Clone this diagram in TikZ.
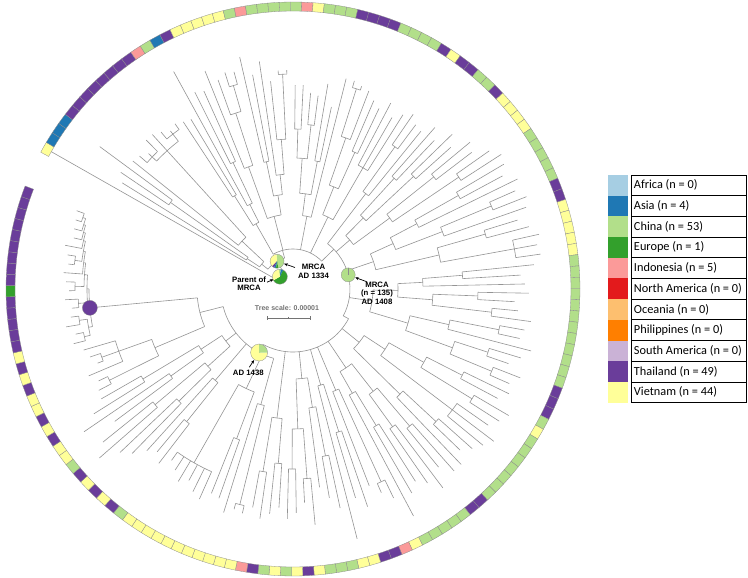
\documentclass[tikz,border=0pt]{standalone}
\usepackage{fontspec}
\setmainfont{Carlito}
\newfontfamily\labfont{Liberation Sans}
\usetikzlibrary{arrows.meta}
\definecolor{cAf}{HTML}{A6CEE3}
\definecolor{cA}{HTML}{1F78B4}
\definecolor{cC}{HTML}{B2DF8A}
\definecolor{cE}{HTML}{33A02C}
\definecolor{cI}{HTML}{FB9A99}
\definecolor{cNA}{HTML}{E31A1C}
\definecolor{cO}{HTML}{FDBF6F}
\definecolor{cP}{HTML}{FF7F00}
\definecolor{cSA}{HTML}{CAB2D6}
\definecolor{cT}{HTML}{6A3D9A}
\definecolor{cV}{HTML}{FFFF99}
\tikzset{
  br/.style={draw=black!42, line width=0.6pt},
  ringbox/.style={draw=black!45, line width=0.3pt},
  pieline/.style={draw=black!45, line width=0.3pt},
  arr/.style={-{Stealth[length=3.5pt,width=3pt]}, line width=0.7pt, black},
  lab/.style={font=\labfont\bfseries\fontsize{7.8}{8.8}\selectfont, align=center, inner sep=0pt},
  legline/.style={draw=black, line width=0.8pt},
  legtext/.style={font=\fontsize{12.3}{14}\selectfont, anchor=west, inner sep=0pt}
}
% radial branch at tip index #1 from radius #2 to #3
\newcommand{\tbl}[3]{\draw[br] ({150.4-2.26*(#1)}:#2) -- ({150.4-2.26*(#1)}:#3);}
% arc at radius #3 from index #1 to #2
\newcommand{\tba}[3]{\draw[br] ({150.4-2.26*(#1)}:#3) arc[start angle={150.4-2.26*(#1)}, end angle={150.4-2.26*(#2)}, radius=#3];}
% node: arc #1..#2 at radius #3, stem from #4 to #3 at midpoint
\newcommand{\tbn}[4]{\tba{#1}{#2}{#3}\tbl{((#1)+(#2))/2}{#4}{#3}}
% pie slice
\newcommand{\piesl}[5]{\fill[#5] (#1) -- ++(#2:#4) arc[start angle=#2, end angle=#3, radius=#4] -- cycle;}

\begin{document}
\begin{tikzpicture}[x=1pt,y=1pt]
\useasboundingbox (-293,-289) rectangle (455,289);
\fill[white] (-293,-289) rectangle (455,289);

% ---------------- ring ----------------
\foreach \c [count=\i from 0] in {V,A,A,A,T,T,T,T,T,T,T,T,I,C,A,T,V,V,V,V,V,C,I,C,C,C,C,C,I,V,C,C,C,T,T,T,T,C,C,C,C,T,V,T,T,C,C,T,V,V,V,V,C,C,C,C,C,T,T,V,V,V,V,V,C,C,C,C,C,C,C,C,C,C,C,C,T,T,T,C,V,C,C,C,C,C,C,C,T,T,C,C,C,C,C,V,I,T,T,V,V,C,C,C,V,T,V,C,V,C,T,I,V,V,V,V,V,V,V,V,V,V,V,C,T,V,T,V,T,C,V,V,T,V,T,V,V,T,V,T,V,T,T,T,T,T,E,T,T,T,T,T,T,T,T,T}{
  \pgfmathsetmacro\ta{150.4-2.26*\i+1.13}
  \pgfmathsetmacro\tb{\ta-2.26}
  \filldraw[fill=c\c, ringbox] (\ta:278) arc[start angle=\ta, end angle=\tb, radius=278] -- (\tb:287) arc[start angle=\tb, end angle=\ta, radius=287] -- cycle;
}

% ---------------- tree ----------------
% root and outgroup
\tbl{0}{18}{278}
\tba{0}{13.5}{18}
\tbl{13.5}{18}{32}
\tba{3.875}{20}{32}
% upper-left clade
\tbn{2}{3}{150}{55} \tbl{2}{150}{208} \tbl{3}{150}{240}
\tbn{1}{2.5}{55}{40} \tbl{1}{55}{201}
\tbn{5}{7}{193}{187} \tbl{5}{193}{203} \tbl{6}{193}{198} \tbl{7}{193}{209}
\tbn{9}{11}{196}{187} \tbl{9}{196}{205} \tbl{10}{196}{200} \tbl{11}{196}{203}
\tbn{6}{10}{187}{70} \tbl{8}{187}{209}
\tbn{4}{8}{70}{40} \tbl{4}{70}{205}
\tbn{1.75}{6}{40}{32}
% arc r=40
\tbl{20}{32}{40}
\tba{13.625}{47}{40}
% P1
\tbn{12}{13}{110}{75} \tbl{12}{110}{200} \tbl{13}{110}{198}
\tbn{15}{16}{140}{95} \tbl{15}{140}{220} \tbl{16}{140}{217}
\tbn{14}{15.5}{95}{75} \tbl{14}{95}{248}
\tbn{12.5}{14.75}{75}{40}
% P2
\tbn{19}{20}{212}{185} \tbl{19}{212}{227} \tbl{20}{212}{225}
\tbn{18}{19.5}{185}{130} \tbl{18}{185}{222}
\tbn{17}{18.75}{130}{75} \tbl{17}{130}{235}
\tbn{25}{26}{215}{150} \tbl{25}{215}{219} \tbl{26}{215}{219}
\tbn{24}{25.5}{150}{115} \tbl{24}{150}{209}
\tbn{23}{24.75}{115}{95} \tbl{23}{115}{230}
\tbn{21}{22}{130}{95} \tbl{21}{130}{238} \tbl{22}{130}{218}
\tbn{21.5}{23.875}{95}{75}
\tbn{17.875}{22.6875}{75}{40}
% P3
\tbn{27}{28}{160}{131} \tbl{27}{160}{204} \tbl{28}{160}{204}
\tbn{29}{30}{165}{131} \tbl{29}{165}{197} \tbl{30}{165}{195}
\tbn{27.5}{29.5}{131}{96}
\tbn{31}{32}{130}{96} \tbl{31}{130}{208} \tbl{32}{130}{186}
\tbn{28.5}{31.5}{96}{74}
\tbn{30}{33}{74}{40} \tbl{33}{74}{217}
% P4
\tbn{34}{35}{210}{160} \tbl{34}{210}{217} \tbl{35}{210}{214}
\tbn{34.5}{36}{160}{110} \tbl{36}{160}{212}
\tbn{37}{38}{150}{110} \tbl{37}{150}{205} \tbl{38}{150}{200}
\tbn{35.25}{37.5}{110}{80}
\tbn{39}{41}{140}{80} \tbl{39}{140}{210} \tbl{40}{140}{198} \tbl{41}{140}{206}
\tbn{36.375}{40}{80}{40}
\tbn{42}{43}{175}{120} \tbl{42}{175}{212} \tbl{43}{175}{205}
\tbn{42.5}{44}{120}{57} \tbl{44}{120}{203}
% arc r=57 (MRCA n=135)
\tbl{47}{40}{57}
\tba{43.25}{79}{57}
% Q1
\tbn{45}{46}{150}{100} \tbl{45}{150}{215} \tbl{46}{150}{205}
\tbn{47}{48}{165}{100} \tbl{47}{165}{222} \tbl{48}{165}{212}
\tbn{45.5}{47.5}{100}{75}
\tbn{49}{50}{180}{120} \tbl{49}{180}{230} \tbl{50}{180}{225}
\tbn{51}{52}{200}{120} \tbl{51}{200}{240} \tbl{52}{200}{248}
\tbn{49.5}{51.5}{120}{75}
\tbn{46.5}{50.5}{75}{57}
% Q2
\tbn{53}{54}{190}{140} \tbl{53}{190}{245} \tbl{54}{190}{238}
\tbn{53.5}{55}{140}{110} \tbl{55}{140}{250}
\tbn{56}{57}{215}{160} \tbl{56}{215}{243} \tbl{57}{215}{251}
\tbn{56.5}{58}{160}{110} \tbl{58}{160}{247}
\tbn{54.25}{57.25}{110}{85}
\tbn{59}{60}{200}{150} \tbl{59}{200}{235} \tbl{60}{200}{244}
\tbn{61}{63}{225}{150} \tbl{61}{225}{252} \tbl{62}{225}{248} \tbl{63}{225}{250}
\tbn{59.5}{62}{150}{85}
\tbn{55.75}{60.75}{85}{57}
% Q3
\tbn{64}{65}{170}{130} \tbl{64}{170}{242} \tbl{65}{170}{228}
\tbn{64.5}{66}{130}{105} \tbl{66}{130}{232}
\tbn{67}{68}{185}{140} \tbl{67}{185}{236} \tbl{68}{185}{222}
\tbn{69}{70}{200}{140} \tbl{69}{200}{226} \tbl{70}{200}{240}
\tbn{67.5}{69.5}{140}{105}
\tbn{65.25}{68.5}{105}{80}
\tbn{71}{72}{210}{160} \tbl{71}{210}{235} \tbl{72}{210}{232}
\tbn{71.5}{73}{160}{120} \tbl{73}{160}{246}
\tbn{74}{75}{205}{170} \tbl{74}{205}{238} \tbl{75}{205}{228}
\tbn{76}{77}{215}{170} \tbl{76}{215}{244} \tbl{77}{215}{236}
\tbn{74.5}{76.5}{170}{120}
\tbn{72.25}{75.5}{120}{80}
\tbn{66.875}{73.875}{80}{57}
% arc r=63
\tbl{79}{57}{63}
\tba{79}{118.8}{63}
% R1
\tbn{78}{79}{190}{150} \tbl{78}{190}{240} \tbl{79}{190}{232}
\tbn{80}{81}{210}{150} \tbl{80}{210}{250} \tbl{81}{210}{245}
\tbn{78.5}{80.5}{150}{110}
\tbn{82}{84}{200}{110} \tbl{82}{200}{238} \tbl{83}{200}{252} \tbl{84}{200}{246}
\tbn{79.5}{83}{110}{85}
\tbn{85}{86}{195}{150} \tbl{85}{195}{240} \tbl{86}{195}{232}
\tbn{85.5}{87}{150}{85} \tbl{87}{150}{243}
\tbn{81.25}{86.25}{85}{63}
% R2
\tbn{88}{89}{180}{130} \tbl{88}{180}{243} \tbl{89}{180}{230}
\tbn{90}{91}{170}{130} \tbl{90}{170}{249} \tbl{91}{170}{236}
\tbn{88.5}{90.5}{130}{95}
\tbn{92}{93}{160}{120} \tbl{92}{160}{228} \tbl{93}{160}{236}
\tbn{92.5}{94}{120}{95} \tbl{94}{120}{257}
\tbn{89.5}{93.25}{95}{63}
\tbn{95}{96}{212}{110} \tbl{95}{212}{232} \tbl{96}{212}{222}
\tbn{95.5}{97}{110}{63} \tbl{97}{110}{211}
% R3
\tbn{98}{99}{150}{100} \tbl{98}{150}{230} \tbl{99}{150}{218}
\tbn{98.5}{100}{100}{63} \tbl{100}{100}{258}
\tbn{101}{102}{170}{120} \tbl{101}{170}{224} \tbl{102}{170}{212}
\tbn{101.5}{103}{120}{90} \tbl{103}{120}{200}
\tbn{104}{105}{190}{140} \tbl{104}{190}{237} \tbl{105}{190}{214}
\tbn{106}{107}{180}{140} \tbl{106}{180}{224} \tbl{107}{180}{230}
\tbn{104.5}{106.5}{140}{90}
\tbn{102.25}{105.5}{90}{63}
\tbn{108}{109}{175}{130} \tbl{108}{175}{219} \tbl{109}{175}{226}
\tbn{110}{111}{185}{130} \tbl{110}{185}{232} \tbl{111}{185}{222}
\tbn{108.5}{110.5}{130}{63}
% arc r=72 (AD 1438)
\tbl{118.8}{63}{72}
\tba{113.25}{139.925}{72}
% S1
\tbn{112}{113}{222}{120} \tbl{112}{222}{230} \tbl{113}{222}{228}
\tbn{112.5}{114}{120}{72} \tbl{114}{120}{234}
\tbn{115}{116}{160}{110} \tbl{115}{160}{222} \tbl{116}{160}{220}
\tbn{117}{122}{200}{110} \tbl{117}{200}{230} \tbl{118}{200}{226} \tbl{119}{200}{218} \tbl{120}{200}{224} \tbl{121}{200}{216} \tbl{122}{200}{210}
\tbn{115.5}{119.5}{110}{72}
\tbn{123}{124}{170}{120} \tbl{123}{170}{220} \tbl{124}{170}{212}
\tbn{123.5}{125}{120}{72} \tbl{125}{120}{218}
% S2
\tbn{126}{127}{160}{115} \tbl{126}{160}{230} \tbl{127}{160}{238}
\tbn{128}{129}{180}{115} \tbl{128}{180}{257} \tbl{129}{180}{244}
\tbn{126.5}{128.5}{115}{85}
\tbn{130}{131}{150}{110} \tbl{130}{150}{222} \tbl{131}{150}{253}
\tbn{132}{133}{175}{110} \tbl{132}{175}{235} \tbl{133}{175}{221}
\tbn{130.5}{132.5}{110}{85}
\tbn{127.5}{131.5}{85}{72}
% Y
\tbl{139.925}{72}{96}
\tba{136}{143.85}{96}
\tbn{134}{135}{205}{150} \tbl{134}{205}{219} \tbl{135}{205}{215}
\tbn{137}{138}{203}{185} \tbl{137}{203}{209} \tbl{138}{203}{214}
\tbn{136}{139}{185}{150} \tbl{136}{185}{222} \tbl{139}{185}{218}
\tbn{134.5}{137.5}{150}{96}
% purple-dot clade
\tbl{143.85}{96}{204}
\tba{141.5}{146.2}{204}
\tbn{140}{141}{214}{208} \tbl{140}{214}{226} \tbl{141}{214}{222}
\tbn{142}{143}{216}{208} \tbl{142}{216}{230} \tbl{143}{216}{224}
\tbn{140.5}{142.5}{208}{204}
\tbn{154}{155}{222}{219} \tbl{154}{222}{228} \tbl{155}{222}{230}
\tbn{153}{154.5}{219}{217} \tbl{153}{219}{227}
\tbn{152}{153.75}{217}{215} \tbl{152}{217}{225}
\tbn{151}{152.875}{215}{213} \tbl{151}{215}{232}
\tbn{149}{150}{220}{213} \tbl{149}{220}{226} \tbl{150}{220}{228}
\tbn{149.5}{151.9375}{213}{211}
\tbn{148}{150.71875}{211}{209} \tbl{148}{211}{230}
\tbn{146}{147}{218}{209} \tbl{146}{218}{224} \tbl{147}{218}{227}
\tbn{146.5}{149.359375}{209}{206}
\tbn{144}{145}{215}{206} \tbl{144}{215}{222} \tbl{145}{215}{228}
\tbn{144.5}{147.9296875}{206}{204}

% ---------------- pies ----------------
\coordinate (pP) at ({150.4-2.26*6}:18);
\coordinate (pA) at ({150.4-2.26*13.5}:32);
\coordinate (pN) at ({150.4-2.26*60.2}:57);
\coordinate (pD) at ({150.4-2.26*118.8}:72);
\coordinate (pT) at ({150.4-2.26*143.85}:204);

% parent of MRCA
\piesl{pP}{-150}{65}{7.5}{cE}
\piesl{pP}{65}{85}{7.5}{cA}
\piesl{pP}{85}{100}{7.5}{cC}
\piesl{pP}{100}{210}{7.5}{cV}
\draw[pieline] (pP) circle[radius=7.5];
% MRCA AD 1334
\piesl{pA}{-80}{95}{7}{cC}
\piesl{pA}{95}{225}{7}{cV}
\piesl{pA}{225}{245}{7}{cT}
\piesl{pA}{245}{262}{7}{cA}
\piesl{pA}{262}{280}{7}{cE}
\draw[pieline] (pA) circle[radius=7];
% MRCA n=135
\fill[cC] (pN) circle[radius=7];
\draw[pieline] (pN) -- ++(90:7);
\draw[pieline] (pN) circle[radius=7];
% AD 1438
\piesl{pD}{90}{360}{8.5}{cV}
\piesl{pD}{0}{90}{8.5}{cC}
\draw[pieline] (pD) circle[radius=8.5];
% purple dot
\fill[cT] (pT) circle[radius=7.5];
\draw[pieline] (pT) circle[radius=7.5];

% ---------------- labels ----------------
\node[lab] (lblA) at (20.5,17.5) {MRCA\\AD 1334};
\coordinate (aA) at (2,21.5);
\draw[arr, shorten >=7.5pt] (aA) -- (pA);

\node[lab] (lblP) at (-44,5.3) {Parent of\\MRCA};
\coordinate (aP) at (-26,6.8);
\draw[arr, shorten >=7pt] (aP) -- (pP);

\node[lab] (lblN) at (84,-4.2) {MRCA\\(n = 135)\\AD 1408};
\coordinate (aN) at (73.7,7.3);
\draw[arr, shorten >=7.5pt] (aN) -- (pN);

\node[lab] (lblD) at (-44.7,-83.7) {AD 1438};
\coordinate (aD) at (-43.7,-78.3);
\draw[arr, shorten >=9pt] (aD) -- (pD);

% tree scale
\node[font=\labfont\bfseries\fontsize{7}{8}\selectfont, text=black!55, inner sep=0pt] (ts) at (-6,-19) {Tree scale: 0.00001};
\coordinate (sb1) at (-26,-29);
\coordinate (sb2) at (17,-29);
\coordinate (sbm) at (-4.5,-29);
\draw[black!55, line width=0.7pt] (sb1) -- (sb2);
\draw[black!55, line width=0.7pt] ([yshift=1.6pt]sb1) -- ([yshift=-1.6pt]sb1);
\draw[black!55, line width=0.7pt] ([yshift=1.6pt]sb2) -- ([yshift=-1.6pt]sb2);
\draw[black!55, line width=0.6pt] ([yshift=1pt]sbm) -- ([yshift=-1pt]sbm);

% ---------------- legend ----------------
\foreach \nm/\col [count=\k from 0] in {Africa (n = 0)/cAf, Asia (n = 4)/cA, China (n = 53)/cC, Europe (n = 1)/cE, Indonesia (n = 5)/cI, North America (n = 0)/cNA, Oceania (n = 0)/cO, Philippines (n = 0)/cP, South America (n = 0)/cSA, Thailand (n = 49)/cT, Vietnam (n = 44)/cV}{
  \pgfmathsetmacro\yt{114-20.7*\k}
  \pgfmathsetmacro\yb{\yt-20.7}
  \pgfmathsetmacro\ym{\yt-10.35}
  \fill[\col] (315.3,\yt) rectangle (335.3,\yb);
  \draw[legline] (338.7,\yt) rectangle (453,\yb);
  \node[legtext] (leg\k) at (340.8,\ym) {\nm};
}
\end{tikzpicture}
\end{document}
